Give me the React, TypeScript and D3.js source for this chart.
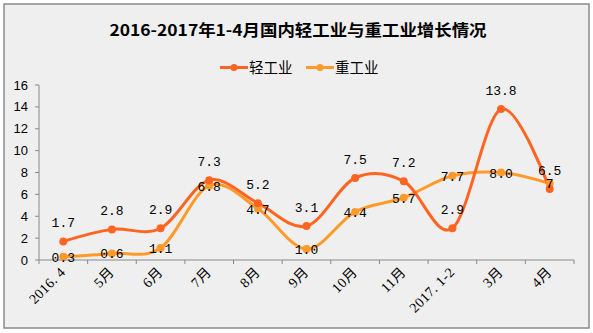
import React from "react";
import * as d3 from "d3";

const categories = ["2016. 4", "5月", "6月", "7月", "8月", "9月", "10月", "11月", "2017. 1-2", "3月", "4月"];
const lightIndustry = [1.7, 2.8, 2.9, 7.3, 5.2, 3.1, 7.5, 7.2, 2.9, 13.8, 6.5];
const heavyIndustry = [0.3, 0.6, 1.1, 6.8, 4.7, 1.0, 4.4, 5.7, 7.7, 8.0, 7.0];
const lightLabels = ["1.7", "2.8", "2.9", "7.3", "5.2", "3.1", "7.5", "7.2", "2.9", "13.8", "6.5"];
const heavyLabels = ["0.3", "0.6", "1.1", "6.8", "4.7", "1.0", "4.4", "5.7", "7.7", "8.0", "7"];
const yTicks = [0, 2, 4, 6, 8, 10, 12, 14, 16];
const seriesNames = ["轻工业", "重工业"];

const W = 593, H = 333;
const LIGHT = "#ff6420";
const HEAVY = "#ff9a2a";

export default function App() {
  const x = d3.scaleBand<string>().domain(categories).range([39, 574]);
  const y = d3.scaleLinear().domain([0, 16]).range([260, 85]);
  const cx = (c: string) => (x(c) as number) + x.bandwidth() / 2;
  const line = d3
    .line<number>()
    .x((_, i) => cx(categories[i]))
    .y((d) => y(d))
    .curve(d3.curveCatmullRom.alpha(0));

  const boundaries = categories.map((c) => x(c) as number).concat([574]);
  const monoFont = "'Liberation Mono', 'DejaVu Sans Mono', monospace";
  const serif = "'Liberation Serif', 'Noto Sans CJK SC', serif";

  return (
    <svg width={W} height={H} style={{ position: "absolute", left: 0, top: 0 }}>
      <rect x={0} y={0} width={W} height={H} fill="#ffffff" />
      <rect x={4} y={4} width={585} height={324} fill="#efefef" stroke="#8a8a8a" strokeWidth={1.5} />
      <text
        x={298}
        y={36}
        textAnchor="middle"
        fontFamily="'Noto Sans CJK SC', sans-serif"
        fontWeight="bold"
        fontSize={16}
        textLength={377}
        lengthAdjust="spacingAndGlyphs"
        fill="#000"
      >
        2016-2017年1-4月国内轻工业与重工业增长情况
      </text>
      {/* legend */}
      {seriesNames.map((n, i) => {
        const lx = i === 0 ? 220 : 306;
        const col = i === 0 ? LIGHT : HEAVY;
        return (
          <g key={n}>
            <line x1={lx} x2={lx + 28} y1={67.5} y2={67.5} stroke={col} strokeWidth={3} />
            <circle cx={lx + 14} cy={67.5} r={3.5} fill={col} />
            <text x={lx + 29} y={73} fontFamily="'Noto Sans CJK SC', sans-serif" fontSize={14.5} fill="#000">
              {n}
            </text>
          </g>
        );
      })}
      {/* axes */}
      <line x1={39} x2={39} y1={85} y2={260} stroke="#888" strokeWidth={1} />
      {yTicks.map((t) => (
        <g key={t}>
          <line x1={35} x2={39} y1={y(t)} y2={y(t)} stroke="#888" />
          <text x={28} y={y(t) + 4.5} textAnchor="end" fontFamily="'Liberation Sans', Arial, sans-serif" fontSize={13} fill="#000">
            {t}
          </text>
        </g>
      ))}
      <line x1={39} x2={574} y1={260} y2={260} stroke="#888" strokeWidth={1} />
      {boundaries.map((b, i) => (
        <line key={i} x1={b} x2={b} y1={260} y2={264} stroke="#888" />
      ))}
      {categories.map((c) => (
        <text
          key={c}
          transform={`translate(${cx(c) + 3},${273}) rotate(-45)`}
          textAnchor="end"
          fontFamily={serif}
          fontSize={14}
          letterSpacing={0.4}
          fill="#000"
        >
          {c}
        </text>
      ))}
      {/* series */}
      <path d={line(heavyIndustry) || ""} fill="none" stroke={HEAVY} strokeWidth={3} />
      <path d={line(lightIndustry) || ""} fill="none" stroke={LIGHT} strokeWidth={3} />
      {heavyIndustry.map((v, i) => (
        <circle key={"h" + i} cx={cx(categories[i])} cy={y(v)} r={4} fill={HEAVY} />
      ))}
      {lightIndustry.map((v, i) => (
        <circle key={"l" + i} cx={cx(categories[i])} cy={y(v)} r={4} fill={LIGHT} />
      ))}
      {lightIndustry.map((v, i) => (
        <text key={"lt" + i} x={cx(categories[i])} y={y(v) - 14} textAnchor="middle" fontFamily={monoFont} fontSize={13} fill="#000">
          {lightLabels[i]}
        </text>
      ))}
      {heavyIndustry.map((v, i) => (
        <text key={"ht" + i} x={cx(categories[i])} y={y(v) + 5} textAnchor="middle" fontFamily={monoFont} fontSize={13} fill="#000">
          {heavyLabels[i]}
        </text>
      ))}
    </svg>
  );
}
